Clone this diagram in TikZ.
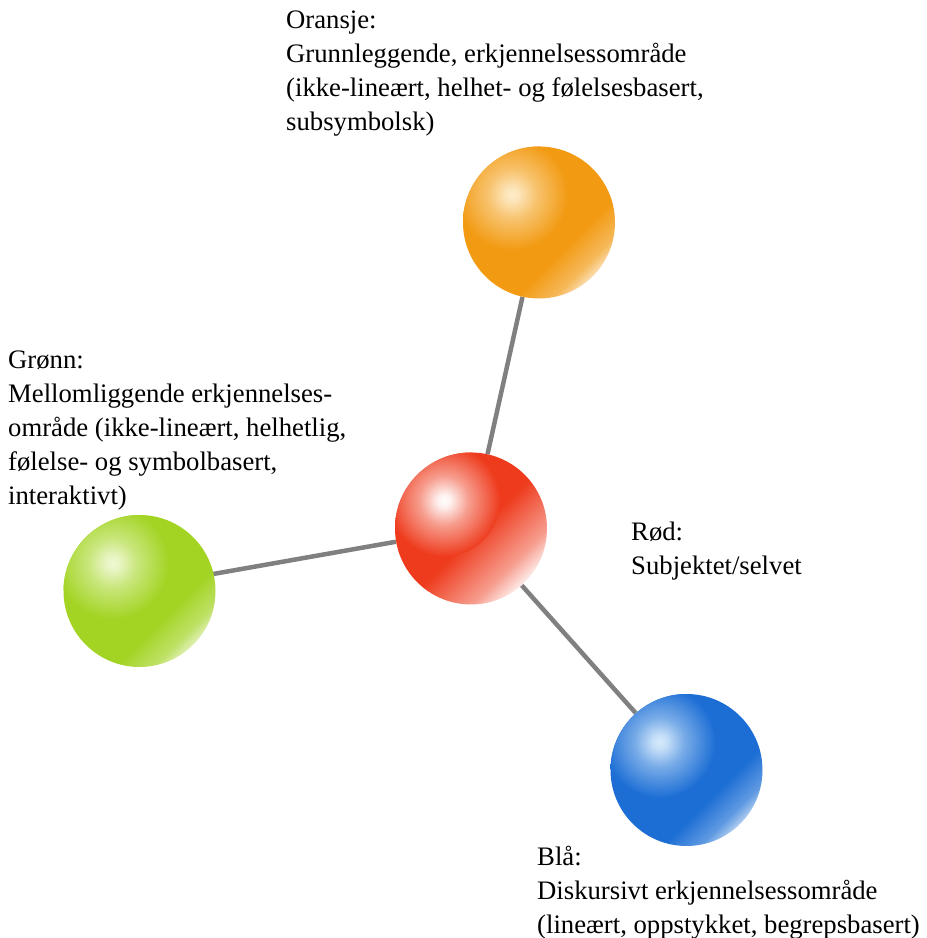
\documentclass[tikz,border=0pt]{standalone}
\usepackage{fontspec}
\setmainfont{Liberation Serif}
\usetikzlibrary{calc}
\definecolor{orangeb}{HTML}{F29A12}
\definecolor{orangeh}{HTML}{FDEBC8}
\definecolor{redb}{HTML}{EE3B1D}
\definecolor{redh}{HTML}{FFFFFF}
\definecolor{greenb}{HTML}{A3D424}
\definecolor{greenh}{HTML}{EEF8D2}
\definecolor{blueb}{HTML}{1C6ED5}
\definecolor{blueh}{HTML}{D6EAFB}
\definecolor{conngray}{HTML}{808080}
\colorlet{sbase}{redb}\colorlet{shl}{redh}
\pgfdeclareverticalshading[sbase]{sglow}{100bp}{color(0bp)=(white); color(25bp)=(sbase!35!white); color(29bp)=(sbase!70!white); color(38bp)=(sbase); color(100bp)=(sbase)}
\pgfdeclareverticalshading[sbase]{sglowwide}{100bp}{color(0bp)=(white); color(25bp)=(sbase!10!white); color(32bp)=(sbase!50!white); color(48bp)=(sbase); color(100bp)=(sbase)}
\pgfdeclareradialshading[sbase,shl]{shigh}{\pgfpointorigin}{color(0bp)=(shl); color(3bp)=(shl!92!sbase); color(11bp)=(shl!50!sbase); color(25bp)=(sbase); color(50bp)=(sbase)}
\newcommand{\paintsphere}[4]{%
  \colorlet{sbase}{#2}\colorlet{shl}{#3}%
  \begin{scope}
    \clip (#1.center) circle[radius=76pt];
    \shade[shading=#4, shading angle=45] (#1.center) circle[radius=76pt];
    \shade[shading=shigh] ($(#1.center)+(-27pt,28pt)$) circle[radius=56pt];
  \end{scope}}
\tikzset{
  ball/.style={circle, minimum size=152pt, inner sep=0pt},
  conn/.style={draw=conngray, line width=4.5pt},
  lbl/.style={anchor=base west, align=left, inner sep=0pt, font=\fontsize{26.7pt}{34pt}\selectfont}
}
\begin{document}
\begin{tikzpicture}[x=1pt,y=1pt]
\useasboundingbox (0,0) rectangle (927,938);
\node[ball] (orange) at (539,715.5) {};
\node[ball] (red) at (471,409.5) {};
\node[ball] (green) at (139.5,347) {};
\node[ball] (blue) at (686.5,168) {};
\draw[conn] (orange) -- (red);
\draw[conn] ($(green.center)+(0,4)$) -- (red);
\draw[conn] (red) -- (blue);
\paintsphere{orange}{orangeb}{orangeh}{sglow}
\paintsphere{red}{redb}{redh}{sglowwide}
\paintsphere{green}{greenb}{greenh}{sglow}
\paintsphere{blue}{blueb}{blueh}{sglow}
\node[lbl] (lorange) at (286,807) {Oransje:\\Grunnleggende, erkjennelsessområde\\(ikke-lineært, helhet- og følelsesbasert,\\subsymbolsk)};
\node[lbl] (lgreen) at (8,433) {Grønn:\\Mellomliggende erkjennelses-\\område (ikke-lineært, helhetlig,\\følelse- og symbolbasert,\\interaktivt)};
\node[lbl] (lred) at (631,363) {Rød:\\Subjektet/selvet};
\node[lbl] (lblue) at (537,4.5) {Blå:\\Diskursivt erkjennelsessområde\\(lineært, oppstykket, begrepsbasert)};
\end{tikzpicture}
\end{document}
